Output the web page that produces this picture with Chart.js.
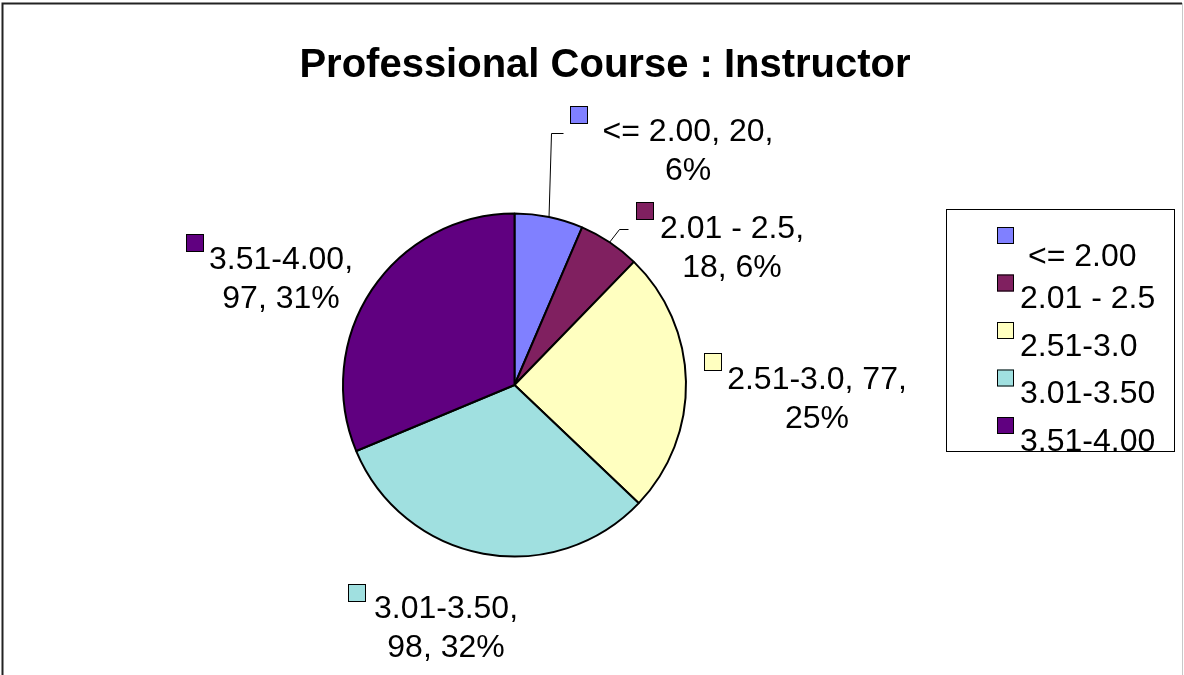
<!DOCTYPE html>
<html>
<head>
<meta charset="utf-8">
<title>Professional Course : Instructor</title>
<script src="https://cdn.jsdelivr.net/npm/chart.js@4.4.0/dist/chart.umd.min.js"></script>
<style>
    html, body { margin: 0; padding: 0; background: #fff; }
    #chartBox { width: 1184px; height: 675px; }
</style>
</head>
<body>
<div id="chartBox"><canvas id="pieChart" width="1184" height="675"></canvas></div>
<script>
    // Chart data
    const chartTitle = 'Professional Course : Instructor';
    const categories = ['<= 2.00', '2.01 - 2.5', '2.51-3.0', '3.01-3.50', '3.51-4.00'];
    const counts = [20, 18, 77, 98, 97];
    // how many comma parts go on the first line of each data label
    const labelBreaks = [2, 1, 2, 1, 1];

    const sliceColors = ['#8080ff', '#802060', '#ffffc0', '#a0e0e0', '#600080'];
    const labelFont = '32px "Liberation Sans", Arial, sans-serif';

    // where Excel put each data label (square + centered text)
    const labelLayout = [
        { sq: [570, 106], cx: 688, y: 132, leader: [[551, 133], [563, 133]] },
        { sq: [636, 202], cx: 732, y: 229, leader: [[619, 229], [628, 229]] },
        { sq: [704, 353], cx: 817, y: 380 },
        { sq: [348, 584], cx: 446, y: 609 },
        { sq: [186, 234], cx: 281, y: 260 }
    ];

    function percentOf(i) {
        const total = counts.reduce((a, b) => a + b, 0);
        return Math.round(counts[i] / total * 100) + '%';
    }

    function drawSquare(ctx, x, y, size, color) {
        ctx.fillStyle = color;
        ctx.fillRect(x, y, size, size);
        ctx.strokeStyle = '#000';
        ctx.lineWidth = 1;
        ctx.strokeRect(x + 0.5, y + 0.5, size - 1, size - 1);
    }

    const excelDecor = {
        id: 'excelDecor',
        afterDraw(chart) {
            const ctx = chart.ctx;
            const meta = chart.getDatasetMeta(0);
            ctx.save();

            // outer frame
            ctx.strokeStyle = '#222';
            ctx.lineWidth = 2;
            ctx.beginPath();
            ctx.moveTo(2.5, 675);
            ctx.lineTo(2.5, 3.5);
            ctx.lineTo(1182, 3.5);
            ctx.stroke();
            ctx.strokeStyle = '#c8c8c8';
            ctx.lineWidth = 1;
            ctx.beginPath();
            ctx.moveTo(1182.5, 3);
            ctx.lineTo(1182.5, 675);
            ctx.stroke();

            // title
            ctx.fillStyle = '#000';
            ctx.font = 'bold 40px "Liberation Sans", Arial, sans-serif';
            ctx.textAlign = 'center';
            ctx.textBaseline = 'middle';
            ctx.fillText(chartTitle, 605, 66);

            // data labels
            ctx.font = labelFont;
            categories.forEach((cat, i) => {
                const lay = labelLayout[i];
                const parts = [cat, String(counts[i]), percentOf(i)];
                const n = labelBreaks[i];
                const line1 = parts.slice(0, n).join(', ') + ',';
                const line2 = parts.slice(n).join(', ');

                drawSquare(ctx, lay.sq[0], lay.sq[1], 18, sliceColors[i]);
                ctx.fillStyle = '#000';
                ctx.textAlign = 'center';
                ctx.fillText(line1, lay.cx, lay.y);
                ctx.fillText(line2, lay.cx, lay.y + 39);

                if (lay.leader) {
                    const arc = meta.data[i];
                    const mid = (arc.startAngle + arc.endAngle) / 2;
                    ctx.strokeStyle = '#000';
                    ctx.lineWidth = 1;
                    ctx.beginPath();
                    ctx.moveTo(arc.x + arc.outerRadius * Math.cos(mid), arc.y + arc.outerRadius * Math.sin(mid));
                    lay.leader.forEach(p => ctx.lineTo(p[0] + 0.5, p[1] + 0.5));
                    ctx.stroke();
                }
            });

            // legend
            ctx.strokeStyle = '#000';
            ctx.lineWidth = 1;
            ctx.strokeRect(946.5, 209.5, 228, 242);
            ctx.textAlign = 'left';
            categories.forEach((cat, i) => {
                const top = 227 + i * 47.5;
                drawSquare(ctx, 997, top, 17, sliceColors[i]);
                ctx.fillStyle = '#000';
                ctx.fillText(cat, i === 0 ? 1028 : 1020, top + (i === 0 ? 30 : 25));
            });

            ctx.restore();
        }
    };

    new Chart(document.getElementById('pieChart').getContext('2d'), {
        type: 'pie',
        data: {
            labels: categories,
            datasets: [{
                data: counts,
                backgroundColor: sliceColors,
                borderColor: '#000',
                borderWidth: 2
            }]
        },
        options: {
            responsive: false,
            animation: false,
            layout: {
                padding: { left: 342, right: 497, top: 212, bottom: 117 }
            },
            plugins: {
                legend: { display: false },
                title: { display: false },
                tooltip: { enabled: false }
            }
        },
        plugins: [excelDecor]
    });
</script>
</body>
</html>
